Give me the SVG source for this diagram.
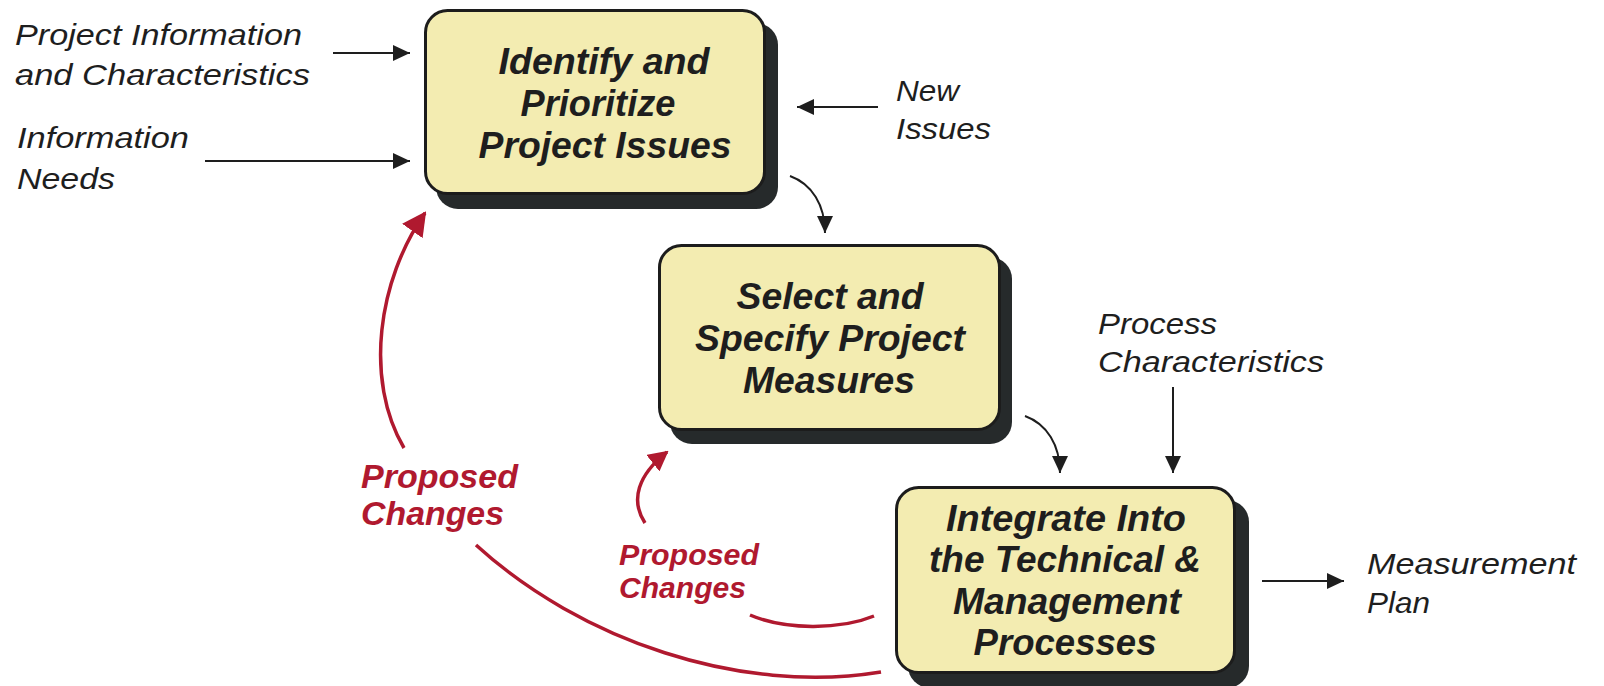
<svg xmlns="http://www.w3.org/2000/svg" width="1604" height="686" viewBox="0 0 1604 686">
<defs>
<style>
.box{fill:#f3ecb1;stroke:#1c1c1c;stroke-width:3}
.shadow{fill:#262a2b}
.bt{font-family:"Liberation Sans",Arial,sans-serif;font-weight:bold;font-style:italic;font-size:36px;fill:#1e1e1e;text-anchor:middle}
.lt{font-family:"Liberation Sans",Arial,sans-serif;font-style:italic;font-size:30px;fill:#1e1e1e}
.rt{font-family:"Liberation Sans",Arial,sans-serif;font-weight:bold;font-style:italic;fill:#b0192f}
.blk{fill:none;stroke:#1e1e1e;stroke-width:2}
.red{fill:none;stroke:#b0192f;stroke-width:3.5}
</style>
<marker id="ah" markerUnits="userSpaceOnUse" viewBox="0 0 17 16" markerWidth="17" markerHeight="16" refX="17" refY="8" orient="auto"><path d="M0,0 L17,8 L0,16 z" fill="#1e1e1e"/></marker>
<marker id="rbig" markerUnits="userSpaceOnUse" viewBox="0 0 24 25" markerWidth="24" markerHeight="25" refX="22" refY="12.5" orient="auto"><path d="M0,0 L24,12.5 L0,25 z" fill="#b0192f"/></marker>
<marker id="rsmall" markerUnits="userSpaceOnUse" viewBox="0 0 20 21" markerWidth="20" markerHeight="21" refX="18" refY="10.5" orient="auto"><path d="M0,0 L20,10.5 L0,21 z" fill="#b0192f"/></marker>
</defs>

<g id="labels">
<text class="lt" x="15" y="45" textLength="287" lengthAdjust="spacingAndGlyphs">Project Information</text>
<text class="lt" x="15" y="85" textLength="295" lengthAdjust="spacingAndGlyphs">and Characteristics</text>
<text class="lt" x="17" y="148" textLength="172" lengthAdjust="spacingAndGlyphs">Information</text>
<text class="lt" x="17" y="189" textLength="98" lengthAdjust="spacingAndGlyphs">Needs</text>
<text class="lt" x="896" y="101" textLength="63" lengthAdjust="spacingAndGlyphs">New</text>
<text class="lt" x="896" y="139" textLength="95" lengthAdjust="spacingAndGlyphs">Issues</text>
<text class="lt" x="1098" y="334" textLength="119" lengthAdjust="spacingAndGlyphs">Process</text>
<text class="lt" x="1098" y="372" textLength="226" lengthAdjust="spacingAndGlyphs">Characteristics</text>
<text class="lt" x="1367" y="574" textLength="209" lengthAdjust="spacingAndGlyphs">Measurement</text>
<text class="lt" x="1367" y="613" textLength="63" lengthAdjust="spacingAndGlyphs">Plan</text>
<text class="rt" x="361" y="488" font-size="33" textLength="157" lengthAdjust="spacingAndGlyphs">Proposed</text>
<text class="rt" x="361" y="525" font-size="33" textLength="143" lengthAdjust="spacingAndGlyphs">Changes</text>
<text class="rt" x="619" y="565" font-size="29" textLength="140" lengthAdjust="spacingAndGlyphs">Proposed</text>
<text class="rt" x="619" y="598" font-size="29" textLength="127" lengthAdjust="spacingAndGlyphs">Changes</text>
</g>

<g id="node-identify">
<rect class="shadow" x="436" y="23" width="342" height="186" rx="22"/>
<rect class="box" x="425.5" y="10.5" width="339" height="183" rx="22"/>
<text class="bt" x="604" y="74" textLength="211" lengthAdjust="spacingAndGlyphs">Identify and</text>
<text class="bt" x="598" y="116" textLength="155" lengthAdjust="spacingAndGlyphs">Prioritize</text>
<text class="bt" x="605" y="158" textLength="253" lengthAdjust="spacingAndGlyphs">Project Issues</text>
</g>

<g id="node-select">
<rect class="shadow" x="670" y="257" width="342" height="187" rx="22"/>
<rect class="box" x="659.5" y="245.5" width="340" height="184" rx="22"/>
<text class="bt" x="830" y="309" textLength="187" lengthAdjust="spacingAndGlyphs">Select and</text>
<text class="bt" x="830" y="351" textLength="270" lengthAdjust="spacingAndGlyphs">Specify Project</text>
<text class="bt" x="829" y="393" textLength="172" lengthAdjust="spacingAndGlyphs">Measures</text>
</g>

<g id="node-integrate">
<rect class="shadow" x="908" y="500" width="341" height="188" rx="22"/>
<rect class="box" x="896.5" y="487.5" width="338" height="185" rx="22"/>
<text class="bt" x="1066" y="531" textLength="240" lengthAdjust="spacingAndGlyphs">Integrate Into</text>
<text class="bt" x="1065" y="572" textLength="272" lengthAdjust="spacingAndGlyphs">the Technical &amp;</text>
<text class="bt" x="1067" y="614" textLength="228" lengthAdjust="spacingAndGlyphs">Management</text>
<text class="bt" x="1065" y="655" textLength="183" lengthAdjust="spacingAndGlyphs">Processes</text>
</g>

<g id="connectors">
<path class="blk" d="M333,53 L410,53" marker-end="url(#ah)"/>
<path class="blk" d="M205,161 L410,161" stroke-width="3" marker-end="url(#ah)"/>
<path class="blk" d="M878,107 L797,107" marker-end="url(#ah)"/>
<path class="blk" d="M790,176 C812,184 825,205 825,233" marker-end="url(#ah)"/>
<path class="blk" d="M1025,416 C1047,424 1060,445 1060,473" marker-end="url(#ah)"/>
<path class="blk" d="M1173,387 L1173,473" marker-end="url(#ah)"/>
<path class="blk" d="M1262,581 L1344,581" stroke-width="3" marker-end="url(#ah)"/>
<path class="red" d="M404,448 C364,380 378,280 425,213" marker-end="url(#rbig)"/>
<path class="red" d="M476,545 C580,640 740,695 881,672"/>
<path class="red" d="M645,523 C630,500 638,475 667,452" marker-end="url(#rsmall)"/>
<path class="red" d="M750,615 C785,630 840,630 874,616"/>
</g>
</svg>
